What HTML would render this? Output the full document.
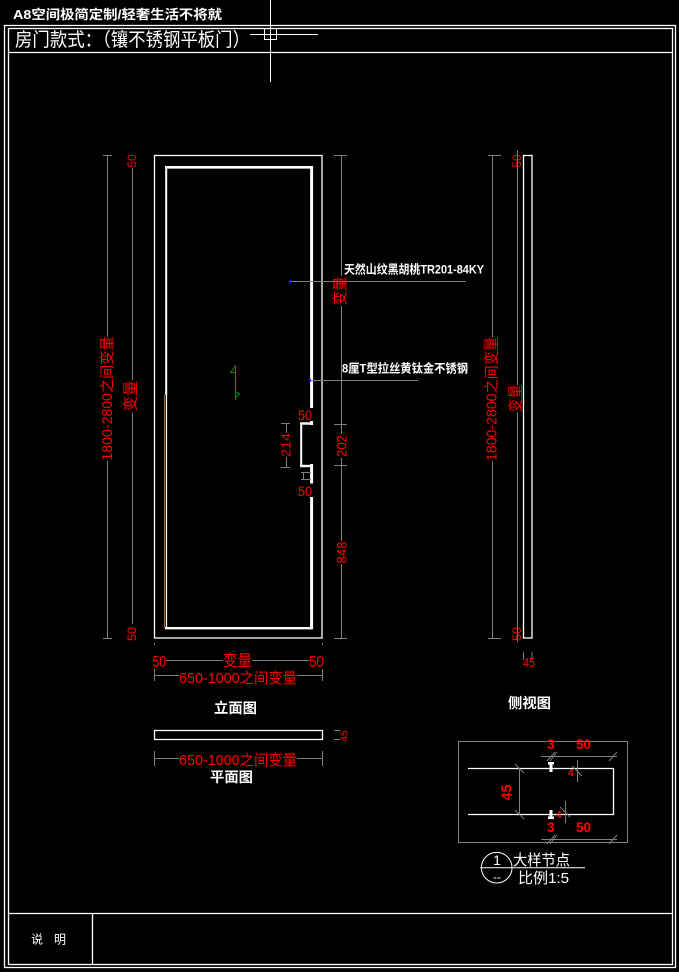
<!DOCTYPE html>
<html>
<head>
<meta charset="utf-8">
<style>
html,body{margin:0;padding:0;background:#000;width:679px;height:972px;overflow:hidden}
svg{display:block}
text{font-family:"Liberation Sans","Noto Sans CJK SC","WenQuanYi Zen Hei",sans-serif}
</style>
</head>
<body>
<svg width="679" height="972" viewBox="0 0 679 972" xmlns="http://www.w3.org/2000/svg">
<rect width="679" height="972" fill="#000"/>

<!-- frame -->
<g fill="none" stroke="#fff" stroke-width="1.3">
  <rect x="4.5" y="25.5" width="671" height="942"/>
  <rect x="8.5" y="28.5" width="664" height="936"/>
  <line x1="8.5" y1="52.5" x2="672.5" y2="52.5"/>
  <line x1="8.5" y1="913.5" x2="672.5" y2="913.5"/>
  <line x1="92.5" y1="913.5" x2="92.5" y2="964.5"/>
</g>

<!-- crosshair -->
<g fill="none" stroke="#fff" stroke-width="1">
  <line x1="270.5" y1="0" x2="270.5" y2="82"/>
  <rect x="264.5" y="28.5" width="12" height="11"/>
  <line x1="250" y1="34.5" x2="318" y2="34.5"/>
</g>

<!-- titles -->
<text x="13" y="19" font-size="13" font-weight="bold" fill="#fff" textLength="209" lengthAdjust="spacingAndGlyphs">A8空间极简定制/轻奢生活不将就</text>
<text x="15" y="46" font-size="19" fill="#fff" textLength="235" lengthAdjust="spacingAndGlyphs">房门款式：（镶不锈钢平板门）</text>

<!-- ELEVATION -->
<g fill="none" stroke="#fff">
  <rect x="154.5" y="155.5" width="167.5" height="482.5" stroke-width="1.3"/>
  <line x1="165" y1="167.3" x2="313" y2="167.3" stroke-width="2.6"/>
  <line x1="166.2" y1="166" x2="166.2" y2="395" stroke-width="2"/>
  <line x1="166.5" y1="395" x2="166.5" y2="629" stroke-width="1.2"/>
  <line x1="165" y1="628.2" x2="313" y2="628.2" stroke-width="2.4"/>
  <line x1="311.6" y1="166" x2="311.6" y2="408" stroke-width="3"/>
  <line x1="311.6" y1="421" x2="311.6" y2="425" stroke-width="3"/>
  <line x1="300" y1="423.5" x2="313" y2="423.5" stroke-width="2.4"/>
  <line x1="301.2" y1="423" x2="301.2" y2="467" stroke-width="2"/>
  <line x1="300" y1="466" x2="313" y2="466" stroke-width="2.4"/>
  <line x1="311.6" y1="464" x2="311.6" y2="483.5" stroke-width="3"/>
  <line x1="311.6" y1="497" x2="311.6" y2="629" stroke-width="3"/>
</g>
<line x1="164.6" y1="395" x2="164.6" y2="628" stroke="#c08030" stroke-width="1"/>

<!-- green symbol -->
<g fill="none" stroke="#0a8a0a" stroke-width="1">
  <line x1="235.5" y1="365" x2="235.5" y2="400"/>
  <polyline points="235.5,366 230.5,372.5 235.5,372.5"/>
  <polyline points="235.5,392 239.5,394 235.5,398"/>
</g>

<!-- leaders -->
<g stroke="#808080" stroke-width="1">
  <line x1="290" y1="281.5" x2="466" y2="281.5"/>
  <line x1="310" y1="380.5" x2="418" y2="380.5"/>
</g>
<rect x="289" y="280" width="2" height="3" fill="#2020ff"/>
<rect x="309" y="379" width="2" height="3" fill="#2020ff"/>
<text x="344" y="273.5" font-size="12" font-weight="bold" fill="#fff" textLength="140" lengthAdjust="spacingAndGlyphs">天然山纹黑胡桃TR201-84KY</text>
<text x="342" y="372.5" font-size="12" font-weight="bold" fill="#fff" textLength="126" lengthAdjust="spacingAndGlyphs">8厘T型拉丝黄钛金不锈钢</text>

<!-- left dims elevation -->
<g stroke="#808080" stroke-width="1">
  <line x1="107.5" y1="155" x2="107.5" y2="337"/>
  <line x1="107.5" y1="461" x2="107.5" y2="638"/>
  <line x1="103" y1="155.5" x2="112" y2="155.5"/>
  <line x1="103" y1="638.5" x2="112" y2="638.5"/>
  <line x1="132.5" y1="168" x2="132.5" y2="380"/>
  <line x1="132.5" y1="413" x2="132.5" y2="624"/>
</g>
<g fill="#ff0000">
  <text transform="translate(107.5,398.5) rotate(-90)" text-anchor="middle" dominant-baseline="central" font-size="15" textLength="124" lengthAdjust="spacingAndGlyphs">1800-2800之间变量</text>
  <text transform="translate(131,396) rotate(-90)" text-anchor="middle" dominant-baseline="central" font-size="15" textLength="31" lengthAdjust="spacingAndGlyphs">变量</text>
  <text transform="translate(132,161) rotate(-90)" text-anchor="middle" dominant-baseline="central" font-size="12" textLength="13" lengthAdjust="spacingAndGlyphs">50</text>
  <text transform="translate(132,634) rotate(-90)" text-anchor="middle" dominant-baseline="central" font-size="12" textLength="14" lengthAdjust="spacingAndGlyphs">50</text>
</g>

<!-- right dims elevation -->
<g stroke="#808080" stroke-width="1">
  <line x1="341.5" y1="155" x2="341.5" y2="276"/>
  <line x1="341.5" y1="306" x2="341.5" y2="434"/>
  <line x1="341.5" y1="458" x2="341.5" y2="541"/>
  <line x1="341.5" y1="564" x2="341.5" y2="638"/>
  <line x1="334" y1="155.5" x2="347" y2="155.5"/>
  <line x1="334" y1="424.5" x2="347" y2="424.5"/>
  <line x1="334" y1="465.5" x2="347" y2="465.5"/>
  <line x1="334" y1="638.5" x2="347" y2="638.5"/>
  <!-- 214 dim -->
  <line x1="286.5" y1="423" x2="286.5" y2="433"/>
  <line x1="286.5" y1="457" x2="286.5" y2="467"/>
  <line x1="281" y1="423.5" x2="290" y2="423.5"/>
  <line x1="281" y1="467.5" x2="290" y2="467.5"/>
  <!-- small I -->
  <line x1="301" y1="472.5" x2="311" y2="472.5"/>
  <line x1="303.5" y1="472" x2="303.5" y2="480"/>
  <line x1="301" y1="479.5" x2="311" y2="479.5"/>
</g>
<g fill="#ff0000">
  <text transform="translate(340.5,291) rotate(-90)" text-anchor="middle" dominant-baseline="central" font-size="15" textLength="29" lengthAdjust="spacingAndGlyphs">变量</text>
  <text transform="translate(341.5,446) rotate(-90)" text-anchor="middle" dominant-baseline="central" font-size="14" textLength="22" lengthAdjust="spacingAndGlyphs">202</text>
  <text transform="translate(341.5,552.5) rotate(-90)" text-anchor="middle" dominant-baseline="central" font-size="14" textLength="22" lengthAdjust="spacingAndGlyphs">848</text>
  <text transform="translate(286,445) rotate(-90)" text-anchor="middle" dominant-baseline="central" font-size="13" textLength="24" lengthAdjust="spacingAndGlyphs">214</text>
  <text x="298" y="420" font-size="14" textLength="14" lengthAdjust="spacingAndGlyphs">50</text>
  <text x="298" y="496" font-size="14" textLength="14" lengthAdjust="spacingAndGlyphs">50</text>
</g>

<!-- bottom dims elevation -->
<g stroke="#808080" stroke-width="1">
  <line x1="166" y1="660.5" x2="223" y2="660.5"/>
  <line x1="252" y1="660.5" x2="309" y2="660.5"/>
  <line x1="154.5" y1="675.5" x2="179" y2="675.5"/>
  <line x1="297" y1="675.5" x2="322.5" y2="675.5"/>
  <line x1="154.5" y1="669" x2="154.5" y2="681"/>
  <line x1="322.5" y1="669" x2="322.5" y2="681"/>
</g>
<rect x="154" y="643.5" width="1" height="1" fill="#fff"/>
<rect x="322" y="643.5" width="1" height="1" fill="#fff"/>
<g fill="#ff0000">
  <text x="152.5" y="667" font-size="16" textLength="13.5" lengthAdjust="spacingAndGlyphs">50</text>
  <text x="223" y="666" font-size="16" textLength="29" lengthAdjust="spacingAndGlyphs">变量</text>
  <text x="309" y="667" font-size="16" textLength="15" lengthAdjust="spacingAndGlyphs">50</text>
  <text x="179" y="683" font-size="15" textLength="118" lengthAdjust="spacingAndGlyphs">650-1000之间变量</text>
</g>
<text x="214" y="713" font-size="14" font-weight="bold" fill="#fff" textLength="43" lengthAdjust="spacingAndGlyphs">立面图</text>

<!-- PLAN -->
<rect x="154.5" y="730.5" width="168" height="9" fill="none" stroke="#fff" stroke-width="1.3"/>
<g stroke="#808080" stroke-width="1">
  <line x1="334" y1="730.5" x2="340" y2="730.5"/>
  <line x1="334" y1="739.5" x2="340" y2="739.5"/>
  <line x1="154.5" y1="758.5" x2="179" y2="758.5"/>
  <line x1="297" y1="758.5" x2="322.5" y2="758.5"/>
  <line x1="154.5" y1="751" x2="154.5" y2="766"/>
  <line x1="322.5" y1="751" x2="322.5" y2="766"/>
</g>
<text transform="translate(345,736) rotate(-90)" text-anchor="middle" dominant-baseline="central" font-size="10" fill="#ff0000" textLength="11" lengthAdjust="spacingAndGlyphs">45</text>
<text x="179" y="765" font-size="15" fill="#ff0000" textLength="118" lengthAdjust="spacingAndGlyphs">650-1000之间变量</text>
<text x="210" y="782" font-size="14" font-weight="bold" fill="#fff" textLength="43" lengthAdjust="spacingAndGlyphs">平面图</text>

<!-- SIDE VIEW -->
<rect x="523.5" y="155.5" width="8.5" height="482.5" fill="none" stroke="#fff" stroke-width="1.3"/>
<g stroke="#808080" stroke-width="1">
  <line x1="492.5" y1="155" x2="492.5" y2="337"/>
  <line x1="492.5" y1="461" x2="492.5" y2="638"/>
  <line x1="488" y1="155.5" x2="501" y2="155.5"/>
  <line x1="488" y1="638.5" x2="501" y2="638.5"/>
  <line x1="517.5" y1="150" x2="517.5" y2="385"/>
  <line x1="517.5" y1="412" x2="517.5" y2="642"/>
  <line x1="523.5" y1="652" x2="523.5" y2="660"/>
  <line x1="532" y1="652" x2="532" y2="660"/>
</g>
<g fill="#ff0000">
  <text transform="translate(492,399) rotate(-90)" text-anchor="middle" dominant-baseline="central" font-size="15" textLength="124" lengthAdjust="spacingAndGlyphs">1800-2800之间变量</text>
  <text transform="translate(516,398.5) rotate(-90)" text-anchor="middle" dominant-baseline="central" font-size="15" textLength="28" lengthAdjust="spacingAndGlyphs">变量</text>
  <text transform="translate(517,161) rotate(-90)" text-anchor="middle" dominant-baseline="central" font-size="12" textLength="13" lengthAdjust="spacingAndGlyphs">50</text>
  <text transform="translate(517,634) rotate(-90)" text-anchor="middle" dominant-baseline="central" font-size="12" textLength="14" lengthAdjust="spacingAndGlyphs">50</text>
  <text x="523" y="667" font-size="13" textLength="12" lengthAdjust="spacingAndGlyphs">45</text>
</g>
<text x="508" y="708" font-size="14" font-weight="bold" fill="#fff" textLength="43" lengthAdjust="spacingAndGlyphs">侧视图</text>

<!-- DETAIL -->
<rect x="458.5" y="741.5" width="169" height="101" fill="none" stroke="#808080" stroke-width="1"/>
<polyline points="468,768.5 613.5,768.5 613.5,814.5 468,814.5" fill="none" stroke="#fff" stroke-width="1.3"/>
<g stroke="#808080" stroke-width="1" fill="none">
  <line x1="519.5" y1="768" x2="519.5" y2="814"/>
  <line x1="515" y1="764" x2="524" y2="773"/>
  <line x1="515" y1="810" x2="524" y2="819"/>
  <line x1="541" y1="756.5" x2="617" y2="756.5"/>
  <line x1="547" y1="761" x2="555" y2="752"/>
  <line x1="550" y1="761" x2="557" y2="752"/>
  <line x1="609" y1="761" x2="617" y2="752"/>
  <line x1="541" y1="839.5" x2="617" y2="839.5"/>
  <line x1="547" y1="844" x2="555" y2="835"/>
  <line x1="550" y1="844" x2="557" y2="835"/>
  <line x1="609" y1="844" x2="617" y2="835"/>
  <line x1="577.5" y1="760" x2="577.5" y2="782"/>
  <line x1="572" y1="766" x2="582" y2="776"/>
  <line x1="565.5" y1="801" x2="565.5" y2="823"/>
  <line x1="560" y1="807" x2="570" y2="817"/>
</g>
<g fill="#fff">
  <rect x="548" y="762" width="6" height="2.5"/>
  <rect x="549.5" y="764" width="3" height="8"/>
  <rect x="549.5" y="810" width="3" height="7"/>
  <rect x="548" y="816.5" width="6" height="2.5"/>
</g>
<g fill="#ff0000" font-weight="bold">
  <text transform="translate(507,792.5) rotate(-90)" text-anchor="middle" dominant-baseline="central" font-size="15" textLength="16" lengthAdjust="spacingAndGlyphs">45</text>
  <text x="547" y="749" font-size="14">3</text>
  <text x="576" y="749" font-size="14" textLength="15" lengthAdjust="spacingAndGlyphs">50</text>
  <text x="547" y="832" font-size="14">3</text>
  <text x="576" y="832" font-size="14" textLength="15" lengthAdjust="spacingAndGlyphs">50</text>
  <text x="568" y="776" font-size="10">4</text>
  <text x="556" y="818" font-size="10">4</text>
</g>

<!-- detail label -->
<circle cx="496.7" cy="867.7" r="15.3" fill="none" stroke="#fff" stroke-width="1"/>
<line x1="480" y1="867.7" x2="585" y2="867.7" stroke="#fff" stroke-width="1"/>
<text x="497" y="865" font-size="14" fill="#fff" text-anchor="middle">1</text>
<text x="497" y="881" font-size="12" fill="#fff" text-anchor="middle">--</text>
<text x="513" y="865" font-size="15" fill="#fff" textLength="57" lengthAdjust="spacingAndGlyphs">大样节点</text>
<text x="518" y="883" font-size="15" fill="#fff" textLength="51" lengthAdjust="spacingAndGlyphs">比例1:5</text>

<!-- notes -->
<text x="31" y="943.5" font-size="12" fill="#fff">说</text>
<text x="54" y="943.5" font-size="12" fill="#fff">明</text>
</svg>
</body>
</html>
